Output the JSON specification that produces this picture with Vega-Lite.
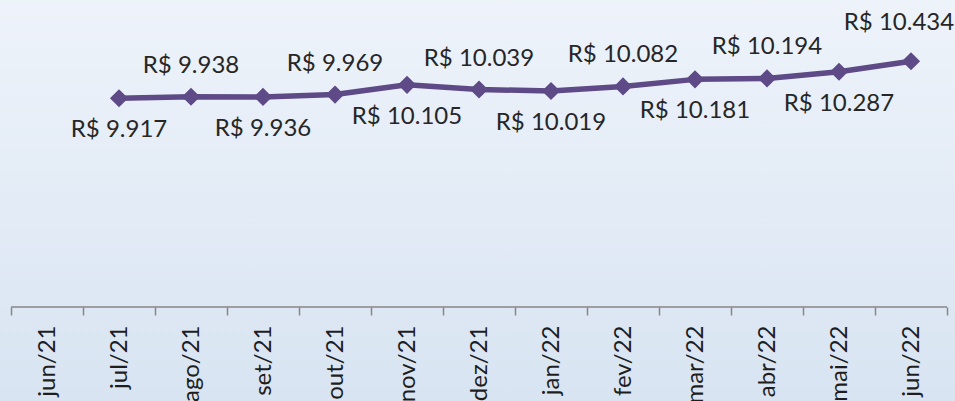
{
  "$schema": "https://vega.github.io/schema/vega-lite/v6.json",
  "width": 955,
  "height": 401,
  "autosize": {"type": "none"},
  "padding": 0,
  "background": "#D9E4F2",
  "config": {
    "view": {
      "stroke": null,
      "fill": {"gradient": "linear", "x1": 0, "y1": 0, "x2": 0, "y2": 1, "stops": [{"offset": 0, "color": "#EEF3FA"}, {"offset": 1, "color": "#D8E4F2"}]}
    },
    "font": "Lato"
  },
  "data": {
    "values": [
      {"mes": "jul/21", "valor": 9.917, "rotulo": "R$ 9.917"},
      {"mes": "ago/21", "valor": 9.938, "rotulo": "R$ 9.938"},
      {"mes": "set/21", "valor": 9.936, "rotulo": "R$ 9.936"},
      {"mes": "out/21", "valor": 9.969, "rotulo": "R$ 9.969"},
      {"mes": "nov/21", "valor": 10.105, "rotulo": "R$ 10.105"},
      {"mes": "dez/21", "valor": 10.039, "rotulo": "R$ 10.039"},
      {"mes": "jan/22", "valor": 10.019, "rotulo": "R$ 10.019"},
      {"mes": "fev/22", "valor": 10.082, "rotulo": "R$ 10.082"},
      {"mes": "mar/22", "valor": 10.181, "rotulo": "R$ 10.181"},
      {"mes": "abr/22", "valor": 10.194, "rotulo": "R$ 10.194"},
      {"mes": "mai/22", "valor": 10.287, "rotulo": "R$ 10.287"},
      {"mes": "jun/22", "valor": 10.434, "rotulo": "R$ 10.434"}
    ]
  },
  "encoding": {
    "x": {
      "field": "mes",
      "type": "nominal",
      "sort": null,
      "scale": {
        "domain": ["jun/21", "jul/21", "ago/21", "set/21", "out/21", "nov/21", "dez/21", "jan/22", "fev/22", "mar/22", "abr/22", "mai/22", "jun/22"],
        "paddingInner": 0,
        "paddingOuter": 0.132,
        "align": 0.58
      },
      "axis": {
        "title": null,
        "orient": "bottom",
        "offset": -94,
        "domain": false,
        "tickColor": "#868686",
        "tickWidth": 1.5,
        "tickSize": 8,
        "tickBand": "extent",
        "labelAngle": -90,
        "labelAlign": "right",
        "labelBaseline": "middle",
        "labelPadding": 10,
        "labelFont": "Lato",
        "labelFontSize": 24,
        "labelColor": "#1E1E1E",
        "labelOverlap": false,
        "labelBound": false,
        "grid": false
      }
    },
    "y": {
      "field": "valor",
      "type": "quantitative",
      "scale": {"domain": [5.687, 11.29], "zero": false, "nice": false},
      "axis": null
    }
  },
  "layer": [
    {
      "data": {"values": [{"inicio": "jun/21", "fim": "jun/22", "base": 7}]},
      "mark": {"type": "rule", "color": "#868686", "strokeWidth": 1.5},
      "encoding": {
        "x": {"field": "inicio", "type": "nominal", "bandPosition": 0},
        "x2": {"field": "fim", "bandPosition": 1},
        "y": {"field": "base", "type": "quantitative"}
      }
    },
    {
      "mark": {"type": "line", "color": "#5E4A86", "strokeWidth": 5.5, "strokeJoin": "round"}
    },
    {
      "mark": {"type": "point", "shape": "diamond", "filled": true, "size": 330, "color": "#5E4A86", "opacity": 1}
    },
    {
      "transform": [{"filter": {"field": "mes", "oneOf": ["ago/21", "out/21", "dez/21", "fev/22", "abr/22"]}}],
      "mark": {"type": "text", "dy": -31, "baseline": "middle", "align": "center", "font": "Lato", "fontSize": 24, "color": "#262626"},
      "encoding": {"text": {"field": "rotulo", "type": "nominal"}}
    },
    {
      "transform": [{"filter": {"field": "mes", "oneOf": ["jun/22"]}}],
      "mark": {"type": "text", "dy": -38, "dx": -12, "baseline": "middle", "align": "center", "font": "Lato", "fontSize": 24, "color": "#262626"},
      "encoding": {"text": {"field": "rotulo", "type": "nominal"}}
    },
    {
      "transform": [{"filter": {"field": "mes", "oneOf": ["jul/21", "set/21", "nov/21", "jan/22", "mar/22", "mai/22"]}}],
      "mark": {"type": "text", "dy": 32, "baseline": "middle", "align": "center", "font": "Lato", "fontSize": 24, "color": "#262626"},
      "encoding": {"text": {"field": "rotulo", "type": "nominal"}}
    }
  ]
}
